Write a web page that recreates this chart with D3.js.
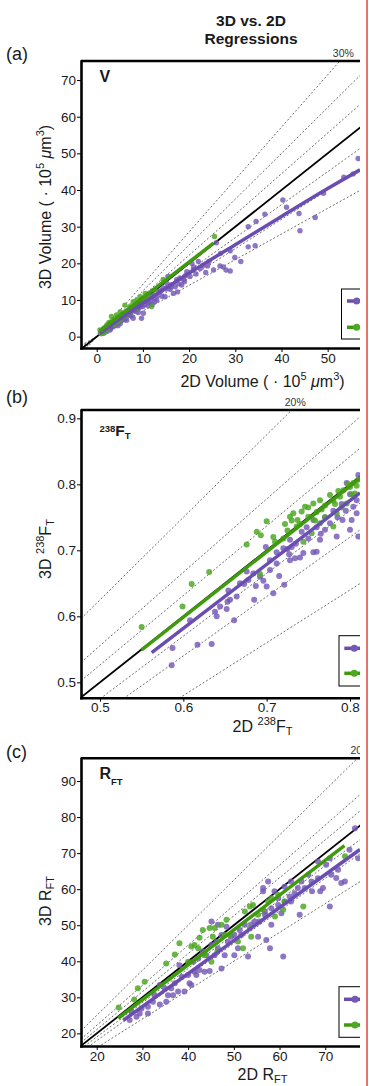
<!DOCTYPE html>
<html>
<head>
<meta charset="utf-8">
<script src="https://cdn.jsdelivr.net/npm/d3@7"></script>
<style>
  body { margin: 0; background: #fff; }
  svg text { font-family: "Liberation Sans", Arial, Helvetica, sans-serif; fill: #1a1a1a; }
</style>
</head>
<body>
<div id="chart"></div>
<script>
// ---- values ----
const aTicksX = [0, 10, 20, 30, 40, 50];
const aTicksY = [0, 10, 20, 30, 40, 50, 60, 70];
const bTicksX = [0.5, 0.6, 0.7, 0.8];
const bTicksY = [0.5, 0.6, 0.7, 0.8, 0.9];
const cTicksX = [20, 30, 40, 50, 60, 70];
const cTicksY = [20, 30, 40, 50, 60, 70, 80, 90];

// percentage guide lines per panel
const aPercents = [0.1, 0.2, 0.3];
const bPercents = [0.05, 0.1, 0.2];
const cPercents = [0.05, 0.1, 0.2];

// (a) volume, 10^5 um^3  [2D, 3D]
const aPurple = [[0.8,0.9],[1.1,1.4],[1.4,0.9],[1.5,1.2],[1.8,1.5],[2,1.8],[2.2,1.4],[2.5,2.1],[2.9,1.8],[3,2.2],[3.2,2.6],[3.6,2.7],[3.9,3.4],[4,3.1],
  [4.3,3.5],[4.6,3],[5,4.1],[5.1,3.6],[5.3,4.4],[5.8,5.5],[6,5.2],[6.1,4.6],[6.5,4.5],[6.8,5.8],[7,6],[7.2,6.4],[7.5,5.6],[7.9,5],[8,7.2],
  [8.3,6.9],[8.7,7.7],[9,6.6],[9,7.6],[9.4,8.1],[9.7,5],[10,8.2],[10.1,6.4],[10.4,8.7],[10.8,10.9],[11,9.5],[11.2,8.4],[11.5,9.1],[11.9,10.3],
  [12,8.8],[12,10.9],[12.3,11.4],[12.6,9.6],[13,10],[13,11],[13.4,12.1],[13.7,12.3],[14,12.6],[14.1,11],[14.4,13.3],[14.8,10.9],[15,13],
  [15.2,14.5],[15.5,16.4],[15.9,12.9],[16,13.6],[16.2,14.2],[16.6,11.8],[17,13.6],[17.3,15.5],[17.5,12.2],[17.8,14.4],[18,16],[18.4,14.1],
  [18.8,15.5],[19,15],[19.2,16.6],[19.5,17.7],[20.2,16.4],[20.6,20],[20.9,18.2],[21,19],[21.5,17.1],[22,20.5],[22.4,18.6],[23,19.4],
  [23.6,17.5],[24,19.3],[24.3,20.5],[25.3,18.2],[25.9,25.6],[26.7,19.3],[26.8,22.7],[27.4,19],[28,18.2],[28.9,17.9],[28.9,23.4],[29.9,21.6],
  [31.2,20.5],[32.8,24.5],[32.8,30],[34.3,24.8],[34.5,31.4],[36.4,33.4],[40.3,37.3],[41.1,35.3],[43.8,33.6],[44,28.9],[47.3,32.5],
  [49.1,39.1],[53.5,43.5],[55.5,44.4],[56.6,48.6]];
const aGreen = [[0.7,1.8],[0.9,1.3],[1,0.8],[1.2,1.5],[1.5,2.2],[1.6,1],[1.8,2.5],[2,1.9],[2.2,3.2],[2.3,2],[2.5,2.8],[2.6,3.8],[2.8,3.4],
  [3,4],[3.2,5.5],[3.4,3.6],[3.6,4.5],[3.7,3.3],[3.9,4.8],[4.1,4.3],[4.3,5.9],[4.4,4],[4.6,5.2],[4.8,4.6],[5,4.5],[5.1,6.8],[5.3,5.6],
  [5.6,6.1],[5.8,5.4],[6,5.8],[6.1,8.6],[6.3,6.6],[6.6,7.1],[6.9,6.5],[7,7.3],[7.2,8.2],[7.5,7.5],[7.9,9.5],[8.2,8.4],[8.5,7.8],[8.7,10],
  [9,9.1],[9.4,10.9],[9.8,9.9],[10,10.5],[10.5,11.8],[10.9,10.4],[11.5,10.9],[11.9,8.2],[12.5,12.7],[14.4,15.6],[25.5,27.3]];
const aPurpleFit = [[0.7,0.8],[5,4.8],[10,9.1],[20,17.3],[30,25.1],[40,32.8],[50,40.4],[57,45.5]];
const aGreenFit = [[0.7,1.6],[25.3,25.5]];

// (b) 238FT  [2D, 3D]
const bPurple = [[0.586,0.526],[0.587,0.552],[0.617,0.557],[0.634,0.558],[0.608,0.594],[0.638,0.607],[0.64,0.6],[0.644,0.615],
  [0.652,0.611],[0.653,0.622],[0.654,0.639],[0.656,0.625],[0.661,0.594],[0.664,0.63],[0.668,0.65],[0.673,0.649],[0.676,0.668],
  [0.678,0.655],[0.684,0.665],[0.685,0.625],[0.687,0.646],[0.692,0.66],[0.696,0.654],[0.7,0.645],[0.699,0.705],[0.704,0.685],
  [0.704,0.67],[0.708,0.635],[0.712,0.697],[0.712,0.68],[0.715,0.661],[0.72,0.703],[0.721,0.648],[0.725,0.702],[0.727,0.694],
  [0.728,0.685],[0.728,0.716],[0.73,0.705],[0.734,0.688],[0.735,0.71],[0.74,0.689],[0.742,0.728],[0.744,0.696],[0.748,0.735],
  [0.75,0.718],[0.756,0.697],[0.756,0.746],[0.76,0.698],[0.76,0.735],[0.764,0.716],[0.765,0.725],[0.77,0.731],[0.77,0.75],
  [0.776,0.741],[0.78,0.76],[0.784,0.721],[0.785,0.75],[0.79,0.77],[0.791,0.746],[0.795,0.76],[0.796,0.802],[0.8,0.731],
  [0.8,0.785],[0.802,0.746],[0.804,0.766],[0.808,0.756],[0.808,0.776],[0.81,0.721],[0.81,0.814]];
const bGreen = [[0.55,0.584],[0.599,0.615],[0.61,0.649],[0.631,0.667],[0.676,0.709],[0.688,0.728],[0.693,0.723],[0.7,0.744],
  [0.692,0.664],[0.708,0.72],[0.71,0.713],[0.72,0.718],[0.722,0.74],[0.725,0.73],[0.728,0.751],[0.73,0.745],[0.732,0.756],
  [0.736,0.736],[0.737,0.746],[0.74,0.74],[0.742,0.759],[0.744,0.713],[0.746,0.766],[0.75,0.751],[0.75,0.765],[0.754,0.726],
  [0.756,0.771],[0.758,0.745],[0.76,0.758],[0.764,0.776],[0.764,0.741],[0.766,0.762],[0.77,0.768],[0.77,0.75],[0.776,0.784],
  [0.78,0.736],[0.78,0.775],[0.782,0.77],[0.784,0.756],[0.786,0.79],[0.788,0.781],[0.79,0.765],[0.792,0.791],[0.796,0.771],
  [0.798,0.8],[0.8,0.796],[0.802,0.785],[0.804,0.802],[0.806,0.786],[0.808,0.798],[0.81,0.807]];
const bPurpleFit = [[0.562,0.545],[0.812,0.787]];
const bGreenFit = [[0.55,0.549],[0.812,0.809]];

// (c) RFT  [2D, 3D]
const cPurple = [[27.2,23.7],[27.6,26],[28.7,24.6],[29.4,25.5],[29.8,26.9],[31.2,25.5],[31.2,27.4],[32.3,28.8],[32.7,30.6],
  [33.8,28],[33.8,33.4],[34.9,32.5],[35.2,28.8],[35.6,30.6],[36.3,32.5],[36.7,30.6],[37.1,33.9],[37.8,31.6],[38.1,38.9],
  [38.6,35.7],[39.2,31.6],[40,36.2],[40.3,33.9],[40.7,33.4],[41.1,39.9],[41.4,37.1],[41.8,36.2],[42.2,40.8],[42.5,37.6],
  [43.2,42.7],[43.6,37.1],[44,41.7],[44.7,37.3],[45.1,44.5],[45.1,51],[45.8,41.7],[46.2,45.4],[46.5,43.6],[46.5,50.1],
  [47.3,38],[47.3,47.3],[48,41.7],[48.4,49.6],[48.7,45.4],[49.4,46.8],[50.1,41.7],[50.1,47.3],[50.9,43.6],[51.3,48.7],
  [51.6,47.3],[52.4,50.1],[53.1,41.3],[53.8,50.1],[54.6,51],[55.3,46.8],[55.6,51],[56.4,59.4],[56.4,60.3],[56.8,53.8],
  [56.8,52.9],[57.1,45.9],[57.5,62.1],[57.9,43.6],[58.2,50.1],[58.2,54.7],[58.9,59.4],[59.7,57.5],[59.7,55.6],[60.4,53.3],
  [60.8,41.3],[61.1,60.7],[61.1,56.6],[62.2,58],[62.5,56.6],[62.5,62.1],[63.3,58.9],[64,60.3],[64.4,52.9],[64.8,62.1],
  [65.5,60.3],[66.3,64],[67,62.1],[67.1,59.4],[68.4,63],[68.4,67.7],[68.9,59.4],[69.5,60.3],[70.2,66.8],[71,55.2],[71,68.6],
  [71.3,64],[72.4,63.1],[72.8,65.4],[73.5,61.7],[74.3,62.1],[75.3,70.9],[76.5,76.9],[77.2,68.6]];
const cGreen = [[24.8,27.2],[28.2,29.4],[29,32.5],[30.5,34.3],[35.2,39.4],[37.1,41.9],[38.1,45],[40,39.9],[40.7,44.1],
  [41.4,44.5],[42.2,43.6],[42.5,46.5],[43.2,48.7],[43.6,41.7],[44.7,49.2],[45.1,39.9],[45.4,46.8],[45.8,49.2],[46.4,42.7],
  [47.3,50.1],[48,47.3],[48.4,51.5],[49.1,47.3],[50.9,45.5],[52,43.6],[52.4,53.8],[53.5,55.2],[53.5,49.2],[53.8,46.8],
  [54.2,55.6],[55.3,52.9],[56.4,54.3],[57.5,56.6],[58.2,57.5],[59,52.4],[59.7,58.4],[60.8,54.3],[61.1,56.6],[65.2,55.2],
  [74.3,69.1]];
const cPurpleFit = [[25.8,23.6],[77.6,71]];
const cGreenFit = [[24.7,24.2],[74.2,72.1]];

// ---- layout ----
const W = 369, H = 1086;
const left = 81, right = 360;
const purpleDot = "#7458b6", purpleLine = "#6a4db0";
const greenDot = "#4fa824", greenLine = "#3f9b0d";

const svg = d3.select("#chart").append("svg")
    .attr("width", W)
    .attr("height", H);
const defs = svg.append("defs");
defs.append("clipPath").attr("id", "crop")
  .append("rect").attr("x", 0).attr("y", 0).attr("width", right).attr("height", H);
const root = svg.append("g").attr("clip-path", "url(#crop)");

// text with raised / lowered pieces
function rich(sel, parts, size) {
  let prev = 0;
  parts.forEach(pt => {
    const rise = pt.rise || 0;
    sel.append("tspan")
      .attr("dy", prev - rise)
      .style("font-size", (pt.fs || size) + "px")
      .style("font-style", pt.it ? "italic" : null)
      .text(pt.t);
    prev = rise;
  });
}

// title
root.append("text").attr("x", 251).attr("y", 26).attr("text-anchor", "middle")
  .style("font-size", "15.5px").style("font-weight", "bold").text("3D vs. 2D");
root.append("text").attr("x", 251).attr("y", 43.5).attr("text-anchor", "middle")
  .style("font-size", "15.5px").style("font-weight", "bold").text("Regressions");

const panels = [
  { key: "a", tag: "(a)", tagY: 60, top: 61, bottom: 348,
    xDomain: [-3.4, 57], yDomain: [-3.1, 75.2], xTicks: aTicksX, yTicks: aTicksY, fmt: d3.format("d"),
    pcts: aPercents, r: 2.7, purple: aPurple, green: aGreen, purpleFit: aPurpleFit, greenFit: aGreenFit,
    legend: {x: 341.5, y: 289, h: 50, rows: [301, 327.3], lineX: 347, dotX: 356.7},
    name: [{t: "V"}], nameY: 81.7,
    xTitle: [{t: "2D Volume ( \u00b7 10"}, {t: "5", rise: 7, fs: 11}, {t: " "}, {t: "\u03bc", it: true}, {t: "m"}, {t: "3", rise: 7, fs: 11}, {t: ")"}],
    xTitleY: 387,
    yTitle: [{t: "3D Volume ( \u00b7 10"}, {t: "5", rise: 7, fs: 11}, {t: " "}, {t: "\u03bc", it: true}, {t: "m"}, {t: "3", rise: 7, fs: 11}, {t: ")"}],
    yTitleY: 207 },
  { key: "b", tag: "(b)", tagY: 403, top: 410, bottom: 697.7,
    xDomain: [0.4772, 0.812], yDomain: [0.4767, 0.9126], xTicks: bTicksX, yTicks: bTicksY, fmt: d3.format(".1f"),
    pcts: bPercents, r: 3, purple: bPurple, green: bGreen, purpleFit: bPurpleFit, greenFit: bGreenFit,
    legend: {x: 339, y: 635.7, h: 50.3, rows: [648.3, 673.3], lineX: 344.3, dotX: 354.3},
    name: [{t: "238", fs: 9.5, rise: 4}, {t: "F", fs: 15.5}, {t: "T", fs: 9.5, rise: -2.5}], nameY: 436,
    xTitle: [{t: "2D "}, {t: "238", rise: 7, fs: 11}, {t: "F"}, {t: "T", rise: -3, fs: 11}],
    xTitleY: 731.7,
    yTitle: [{t: "3D "}, {t: "238", rise: 7, fs: 11}, {t: "F"}, {t: "T", rise: -3, fs: 11}],
    yTitleY: 549 },
  { key: "c", tag: "(c)", tagY: 758, top: 758.3, bottom: 1046,
    xDomain: [16.56, 77.6], yDomain: [16.5, 96.3], xTicks: cTicksX, yTicks: cTicksY, fmt: d3.format("d"),
    pcts: cPercents, r: 3, purple: cPurple, green: cGreen, purpleFit: cPurpleFit, greenFit: cGreenFit,
    legend: {x: 339, y: 986.7, h: 50.6, rows: [999.3, 1025], lineX: 344, dotX: 355},
    name: [{t: "R", fs: 16}, {t: "FT", fs: 9.5, rise: -6}], nameY: 779.3,
    xTitle: [{t: "2D R"}, {t: "FT", rise: -3, fs: 11}],
    xTitleY: 1080,
    yTitle: [{t: "3D R"}, {t: "FT", rise: -3, fs: 11}],
    yTitleY: 901 }
];

panels.forEach(p => {
  const x = d3.scaleLinear().domain(p.xDomain).range([left, right]);
  const y = d3.scaleLinear().domain(p.yDomain).range([p.bottom, p.top]);
  const g = root.append("g");

  defs.append("clipPath").attr("id", "plot-" + p.key)
    .append("rect")
      .attr("x", left).attr("y", p.top)
      .attr("width", right - left).attr("height", p.bottom - p.top);
  const plot = g.append("g").attr("clip-path", `url(#plot-${p.key})`);

  const x0 = p.xDomain[0], far = p.xDomain[1] * 3;

  // dashed +/- percent guides
  p.pcts.forEach(pc => {
    [1 / (1 - pc), 1 - pc].forEach(k => {
      plot.append("line")
        .attr("x1", x(x0)).attr("y1", y(x0 * k))
        .attr("x2", x(far)).attr("y2", y(far * k))
        .attr("stroke", "#4a4a4a")
        .attr("stroke-width", 0.8)
        .attr("stroke-dasharray", "2,2");
    });
  });

  // 1:1 line
  plot.append("line")
    .attr("x1", x(x0)).attr("y1", y(x0))
    .attr("x2", x(far)).attr("y2", y(far))
    .attr("stroke", "#000")
    .attr("stroke-width", 1.8);

  // points
  plot.append("g").selectAll("circle")
    .data(p.purple)
    .join("circle")
      .attr("cx", d => x(d[0]))
      .attr("cy", d => y(d[1]))
      .attr("r", p.r)
      .style("fill", purpleDot)
      .style("opacity", 0.82);
  plot.append("g").selectAll("circle")
    .data(p.green)
    .join("circle")
      .attr("cx", d => x(d[0]))
      .attr("cy", d => y(d[1]))
      .attr("r", p.r)
      .style("fill", greenDot)
      .style("opacity", 0.85);

  // regression lines
  const line = d3.line().x(d => x(d[0])).y(d => y(d[1])).curve(d3.curveMonotoneX);
  plot.append("path").datum(p.purpleFit)
    .attr("d", line).attr("fill", "none")
    .attr("stroke", purpleLine).attr("stroke-width", 3.5);
  plot.append("path").datum(p.greenFit)
    .attr("d", line).attr("fill", "none")
    .attr("stroke", greenLine).attr("stroke-width", 3.5);

  // label of the outermost guide, where it leaves the top
  const pMax = d3.max(p.pcts);
  const xHit = p.yDomain[1] * (1 - pMax);
  g.append("text")
    .attr("x", x(xHit) - 7)
    .attr("y", p.top - 4)
    .style("font-size", "10.5px")
    .style("fill", "#333")
    .text(Math.round(pMax * 100) + "%");

  // axes
  const xAxis = g.append("g")
    .attr("transform", `translate(0,${p.bottom})`)
    .call(d3.axisBottom(x).tickValues(p.xTicks).tickFormat(p.fmt).tickSize(4).tickSizeOuter(0).tickPadding(1));
  const yAxis = g.append("g")
    .attr("transform", `translate(${left},0)`)
    .call(d3.axisLeft(y).tickValues(p.yTicks).tickFormat(p.fmt).tickSize(4).tickSizeOuter(0).tickPadding(1));
  [xAxis, yAxis].forEach(ax => {
    ax.select(".domain").attr("stroke-width", 2.6).attr("stroke-linecap", "square");
    ax.selectAll(".tick line").attr("stroke-width", 1);
    ax.selectAll(".tick text").style("font-size", "13.5px").style("fill", "#1a1a1a")
      .attr("font-family", null);
  });
  g.append("line")
    .attr("x1", left).attr("x2", right + 10)
    .attr("y1", p.top).attr("y2", p.top)
    .attr("stroke", "#000").attr("stroke-width", 2.6);

  // legend (cut off at the right by the crop)
  const lg = p.legend;
  g.append("rect")
    .attr("x", lg.x).attr("y", lg.y)
    .attr("width", 60).attr("height", lg.h)
    .attr("fill", "#fff").attr("stroke", "#000").attr("stroke-width", 1);
  [[purpleLine, purpleDot], [greenLine, greenDot]].forEach((c, i) => {
    g.append("line")
      .attr("x1", lg.lineX).attr("x2", lg.lineX + 24)
      .attr("y1", lg.rows[i]).attr("y2", lg.rows[i])
      .attr("stroke", c[0]).attr("stroke-width", 3.5);
    g.append("circle")
      .attr("cx", lg.dotX).attr("cy", lg.rows[i]).attr("r", 3.5)
      .style("fill", c[1]);
  });

  // panel tag and variable name
  g.append("text").attr("x", 6).attr("y", p.tagY)
    .style("font-size", "18px").text(p.tag);
  rich(g.append("text").attr("x", 99.5).attr("y", p.nameY).style("font-weight", "bold"), p.name, 16);

  // axis titles
  rich(g.append("text").attr("x", 262.5).attr("y", p.xTitleY).attr("text-anchor", "middle"), p.xTitle, 16);
  rich(g.append("text")
    .attr("transform", `translate(50.5,${p.yTitleY}) rotate(-90)`)
    .attr("text-anchor", "middle"), p.yTitle, 16);
});

// thin red rule at the right edge of the figure
svg.append("line")
  .attr("x1", 367).attr("x2", 367)
  .attr("y1", 0).attr("y2", H)
  .attr("stroke", "#e0453a")
  .attr("stroke-width", 1.5);
</script>
</body>
</html>
